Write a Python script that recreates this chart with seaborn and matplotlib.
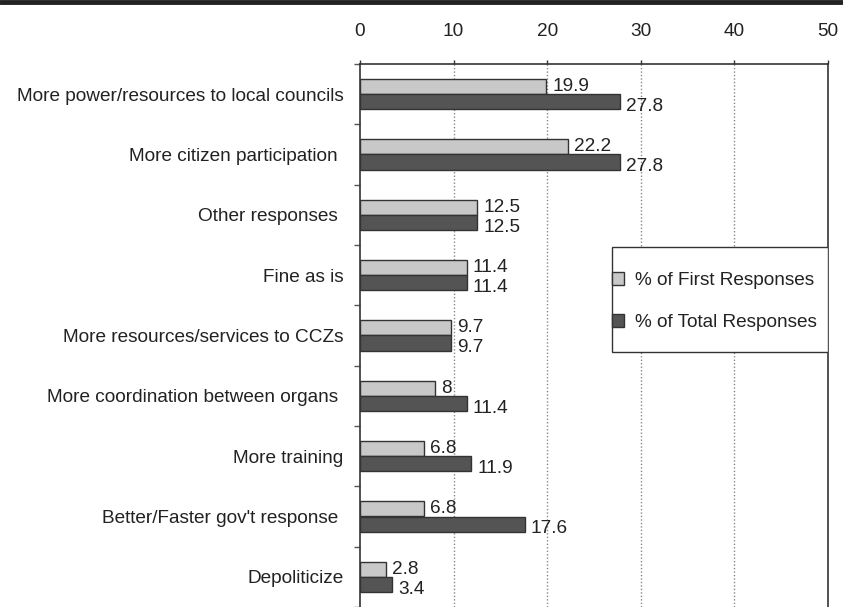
import pandas as pd
import numpy as np
import matplotlib
matplotlib.use("Agg")
import matplotlib.pyplot as plt
import seaborn as sns
from matplotlib.patches import Rectangle
from matplotlib.lines import Line2D

sns.set_theme(style="white")
plt.rcParams['font.family'] = ['Liberation Sans', 'DejaVu Sans']

# data
categories = [
    "More power/resources to local councils",
    "More citizen participation ",
    "Other responses ",
    "Fine as is",
    "More resources/services to CCZs",
    "More coordination between organs ",
    "More training",
    "Better/Faster gov't response ",
    "Depoliticize",
]
first_resp = [19.9, 22.2, 12.5, 11.4, 9.7, 8, 6.8, 6.8, 2.8]
total_resp = [27.8, 27.8, 12.5, 11.4, 9.7, 11.4, 11.9, 17.6, 3.4]
series = ["% of First Responses", "% of Total Responses"]
colors = ["#c8c8c8", "#545454"]

df = pd.DataFrame({
    "category": categories * 2,
    "series": [series[0]] * len(categories) + [series[1]] * len(categories),
    "value": first_resp + total_resp,
})

FS = 13.65
W, H = 843, 607
fig = plt.figure(figsize=(W / 100, H / 100), dpi=100)
ax_l, ax_r, ax_t = 360, 828, 64
ax = fig.add_axes([ax_l / W, 0, (ax_r - ax_l) / W, (H - ax_t) / H])

sns.barplot(data=df, x="value", y="category", hue="series", hue_order=series,
            palette=colors, orient="h", width=0.5, gap=0, edgecolor="#333333",
            linewidth=1.0, saturation=1, ax=ax, zorder=3)

# value labels
for ci, cont in enumerate(ax.containers):
    dy = 0 if ci == 0 else -3.5
    for bar in cont:
        val = bar.get_width()
        y = bar.get_y() + bar.get_height() / 2
        ax.annotate(f"{val:g}", (val, y), xytext=(4.5, dy), textcoords="offset points",
                    ha="left", va="center", fontsize=FS, color="#222222", zorder=5)

ax.set_xlim(0, 50)
n = len(categories)
group_px = 61
ax.set_ylim(-0.5 + (H - ax_t) / group_px, -0.5)
ax.set_xlabel("")
ax.set_ylabel("")

ax.xaxis.set_ticks_position("top")
ax.xaxis.set_label_position("top")
ax.set_xticks([0, 10, 20, 30, 40, 50])
ax.tick_params(axis="x", direction="out", length=3, width=1, color="#333333",
               pad=14.5, labelsize=FS, labelcolor="#222222")
ax.set_yticks(np.arange(n))
ax.set_yticklabels(categories)
ax.set_yticks(np.arange(n + 1) - 0.5, minor=True)
ax.tick_params(axis="y", which="major", length=0, pad=12, labelsize=FS, labelcolor="#222222")
ax.tick_params(axis="y", which="minor", direction="out", length=4, width=1, color="#555555")
ax.tick_params(axis="y", which="minor", left=True)

ax.grid(False)
for x in [10, 20, 30, 40]:
    ax.axvline(x, color="#888888", linestyle=(0, (1, 1.5)), linewidth=1, zorder=1)

for side in ["top", "left", "right"]:
    ax.spines[side].set_visible(True)
    ax.spines[side].set_color("#333333")
    ax.spines[side].set_linewidth(1.2)
ax.spines["bottom"].set_visible(False)

# legend box
ax_h = H - ax_t
ax_w = ax_r - ax_l
bx0 = (612 - ax_l) / ax_w
by0 = 1 - (352 - ax_t) / ax_h
by1 = 1 - (247 - ax_t) / ax_h
ax.add_patch(Rectangle((bx0, by0), 1 - bx0, by1 - by0, transform=ax.transAxes,
                       facecolor="white", edgecolor="#333333", linewidth=1.0, zorder=6))
handles, labels = ax.get_legend_handles_labels()
if ax.get_legend() is not None:
    ax.get_legend().remove()
leg = ax.legend(handles, labels, loc="upper left",
                bbox_to_anchor=(bx0, 1 - (272 - ax_t) / ax_h), frameon=False,
                borderpad=0, borderaxespad=0, handlelength=0.65, handleheight=0.7,
                handletextpad=0.55, labelspacing=1.3, fontsize=FS)
leg.set_zorder(7)
for t in leg.get_texts():
    t.set_color("#222222")

# thick rule along the top
fig.add_artist(Line2D([0, 1], [1 - 2 / H, 1 - 2 / H], transform=fig.transFigure,
                      color="#222222", linewidth=3.5))

fig.savefig("out.png", dpi=100)
